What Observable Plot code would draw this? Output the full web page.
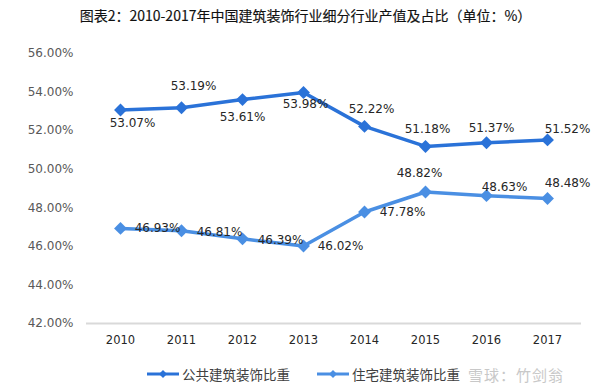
<!DOCTYPE html>
<html>
<head>
<meta charset="utf-8">
<script src="https://cdn.jsdelivr.net/npm/d3@7"></script>
<script src="https://cdn.jsdelivr.net/npm/@observablehq/plot@0.6"></script>
<style>
  body { margin: 0; background: #fff; width: 611px; height: 390px; overflow: hidden; font-family: "Noto Sans CJK SC", "DejaVu Sans", sans-serif; }
  #title { height: 30px; line-height: 30px; text-align: center; font-size: 14px; font-weight: normal; color: #111; font-family: "Noto Sans CJK SC", sans-serif; -webkit-text-stroke: 0.15px #111; }
  #legend { position: relative; height: 35px; font-size: 13.5px; color: #404040; font-family: "Noto Sans CJK SC", sans-serif; }
  .item { position: absolute; top: 9px; display: flex; align-items: center; }
  .item span { margin-left: 3px; }
  #wm { position: absolute; left: 468px; top: 9px; color: #c8c8c8; font-size: 15px; letter-spacing: 1px; }
</style>
</head>
<body>
<div id="title">图表2：2010-2017年中国建筑装饰行业细分行业产值及占比（单位：%）</div>
<div id="chart"></div>
<div id="legend"></div>
<script>
const years = [2010, 2011, 2012, 2013, 2014, 2015, 2016, 2017];
const publicShare = [53.07, 53.19, 53.61, 53.98, 52.22, 51.18, 51.37, 51.52];
const residentialShare = [46.93, 46.81, 46.39, 46.02, 47.78, 48.82, 48.63, 48.48];
const seriesNames = ["公共建筑装饰比重", "住宅建筑装饰比重"];
const yTicks = [42, 44, 46, 48, 50, 52, 54, 56];

const colors = ["#2a72d8", "#4a8fe3"];
// label placement offsets [dx, dy] in px (style only)
const publicLabelOffsets = [[12,13],[12,-22],[0,18],[2,12],[7,-17],[2,-17],[5,-15],[20,-11]];
const residentialLabelOffsets = [[37,0],[38,1],[38,1],[37,0],[38,0],[-6,-19],[18,-8],[20,-15]];

const rows = [];
years.forEach((yr, i) => {
  rows.push({year: String(yr), value: publicShare[i], series: seriesNames[0], i});
  rows.push({year: String(yr), value: residentialShare[i], series: seriesNames[1], i});
});

const labelMarks = [];
rows.forEach(d => {
  const off = d.series === seriesNames[0] ? publicLabelOffsets[d.i] : residentialLabelOffsets[d.i];
  labelMarks.push(Plot.text([d], {
    x: "year", y: "value", text: r => r.value.toFixed(2) + "%",
    dx: off[0], dy: off[1], fontSize: 12, fill: "#262626",
    fontFamily: "DejaVu Sans"
  }));
});

const chart = Plot.plot({
  width: 611,
  height: 325,
  marginLeft: 86,
  marginRight: 30,
  marginTop: 23,
  marginBottom: 32,
  style: {fontFamily: "DejaVu Sans", fontSize: "12px", background: "transparent"},
  x: {type: "point", domain: years.map(String), padding: 0.5, label: null, tickSize: 0, tickPadding: 13},
  y: {domain: [42, 56], ticks: yTicks, label: null, tickSize: 0, tickPadding: 13, tickFormat: v => v.toFixed(2) + "%"},
  color: {domain: seriesNames, range: colors},
  marks: [
    Plot.axisY({ticks: yTicks, tickSize: 0, tickPadding: 13, tickFormat: v => v.toFixed(2) + "%", label: null, fill: "#595959", fontSize: 12}),
    Plot.axisX({tickSize: 0, tickPadding: 12, label: null, fill: "#262626", fontSize: 11.5}),
    Plot.ruleY([42], {stroke: "#d9d9d9", strokeWidth: 2}),
    Plot.line(rows, {x: "year", y: "value", z: "series", stroke: "series", strokeWidth: 3.5}),
    Plot.dot(rows, {x: "year", y: "value", fill: "series", symbol: "diamond2", r: 5.8, stroke: "none"}),
    ...labelMarks
  ]
});
document.getElementById("chart").appendChild(chart);

const legend = document.getElementById("legend");
const lefts = [147, 317];
seriesNames.forEach((name, k) => {
  const div = document.createElement("div");
  div.className = "item";
  div.style.left = lefts[k] + "px";
  div.innerHTML = `<svg width="32" height="10"><line x1="0" y1="5" x2="32" y2="5" stroke="${colors[k]}" stroke-width="3"/><path d="M16,1 L20,5 L16,9 L12,5 Z" fill="${colors[k]}"/></svg><span>${name}</span>`;
  legend.appendChild(div);
});
const wm = document.createElement("div");
wm.id = "wm";
wm.textContent = "雪球：竹剑翁";
legend.appendChild(wm);
</script>
</body>
</html>
